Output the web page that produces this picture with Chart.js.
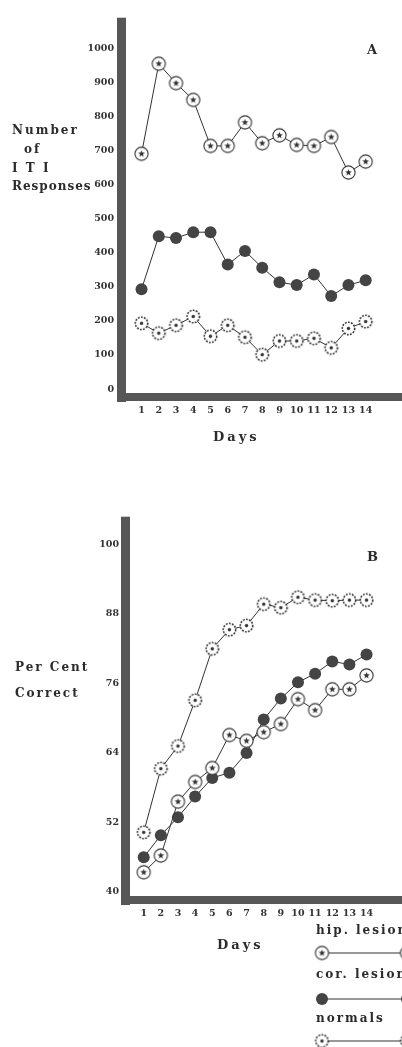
<!DOCTYPE html>
<html>
<head>
<meta charset="utf-8">
<script src="https://cdn.jsdelivr.net/npm/chart.js@4.4.1/dist/chart.umd.min.js"></script>
<style>
body { margin: 0; background: #fff; width: 402px; height: 1047px; overflow: hidden; position: relative; font-family: "DejaVu Serif", serif; color: #2b2b2b; }
.lbl { position: absolute; font-weight: bold; white-space: nowrap; letter-spacing: 2px; font-size: 12px; line-height: 12px; }
.big { font-size: 13px; letter-spacing: 3px; }
#wrapA { position: absolute; left: 0; top: 0; width: 402px; height: 460px; }
#wrapB { position: absolute; left: 0; top: 500px; width: 402px; height: 547px; }
</style>
</head>
<body>
<div id="wrapA"><canvas id="chartA" width="402" height="460"></canvas></div>
<div id="wrapB"><canvas id="chartB" width="402" height="547"></canvas></div>

<div class="lbl" style="left:12px;top:124px">Number</div>
<div class="lbl" style="left:24px;top:143px">of</div>
<div class="lbl" style="left:12px;top:162px">I T I</div>
<div class="lbl" style="left:12px;top:180px;letter-spacing:1px">Responses</div>
<div class="lbl big" style="left:367px;top:44px">A</div>
<div class="lbl big" style="left:213px;top:431px">Days</div>

<div class="lbl" style="left:15px;top:661px">Per Cent</div>
<div class="lbl" style="left:15px;top:687px">Correct</div>
<div class="lbl big" style="left:367px;top:551px">B</div>
<div class="lbl big" style="left:217px;top:939px">Days</div>

<div class="lbl" style="left:316px;top:924px">hip. lesions</div>
<div class="lbl" style="left:316px;top:968px">cor. lesions</div>
<div class="lbl" style="left:316px;top:1012px">normals</div>

<script>
// values
const days = [1, 2, 3, 4, 5, 6, 7, 8, 9, 10, 11, 12, 13, 14];
const dayTicks = [1, 2, 3, 4, 5, 6, 7, 8, 9, 10, 11, 12, 13, 14];

// panel A - number of ITI responses
const itiHip = [690, 954, 897, 848, 713, 713, 782, 721, 744, 716, 713, 739, 635, 667];
const itiCor = [293, 448, 443, 460, 460, 365, 405, 356, 313, 305, 336, 273, 305, 319];
const itiNormal = [193, 164, 187, 213, 155, 187, 152, 101, 141, 141, 149, 121, 178, 198];
const itiTicks = [0, 100, 200, 300, 400, 500, 600, 700, 800, 900, 1000];

// panel B - per cent correct
const pctHip = [43.4, 46.3, 55.6, 59.0, 61.4, 67.1, 66.1, 67.6, 69.0, 73.3, 71.4, 75.0, 75.0, 77.4];
const pctCor = [46.0, 49.8, 52.9, 56.5, 59.7, 60.6, 64.0, 69.8, 73.4, 76.2, 77.7, 79.8, 79.3, 81.0];
const pctNormal = [50.3, 61.3, 65.2, 73.1, 82.0, 85.3, 86.0, 89.7, 89.1, 90.9, 90.4, 90.3, 90.4, 90.4];
const pctTicks = [40, 52, 64, 76, 88, 100];

const ink = '#333';
const barColor = '#575757';
const tickFont = { family: 'DejaVu Serif', size: 9.5, weight: 'bold' };

// marker: open circle with a star in it
function makeHipMarker() {
    const c = document.createElement('canvas');
    c.width = 17; c.height = 17;
    const g = c.getContext('2d');
    g.beginPath();
    g.arc(8.5, 8.5, 6.6, 0, Math.PI * 2);
    g.fillStyle = '#fff';
    g.fill();
    g.lineWidth = 1.1;
    g.strokeStyle = ink;
    g.stroke();
    g.beginPath();
    for (let i = 0; i < 10; i++) {
        const r = i % 2 === 0 ? 3.6 : 1.5;
        const a = -Math.PI / 2 + i * Math.PI / 5;
        g.lineTo(8.5 + r * Math.cos(a), 8.5 + r * Math.sin(a));
    }
    g.closePath();
    g.fillStyle = ink;
    g.fill();
    return c;
}

// marker: dashed circle with a dot
function makeNormalMarker() {
    const c = document.createElement('canvas');
    c.width = 17; c.height = 17;
    const g = c.getContext('2d');
    g.beginPath();
    g.arc(8.5, 8.5, 6.2, 0, Math.PI * 2);
    g.fillStyle = '#fff';
    g.fill();
    g.setLineDash([1.8, 1.3]);
    g.lineWidth = 1.6;
    g.strokeStyle = ink;
    g.stroke();
    g.setLineDash([]);
    g.beginPath();
    g.arc(8.5, 8.5, 1.7, 0, Math.PI * 2);
    g.fillStyle = ink;
    g.fill();
    return c;
}

const hipMarker = makeHipMarker();
const normalMarker = makeNormalMarker();

function series(label, values, style) {
    const s = {
        label: label,
        data: days.map((d, i) => ({ x: d, y: values[i] })),
        borderColor: ink,
        borderWidth: 1,
        tension: 0,
        fill: false,
        pointStyle: style,
        pointRadius: 6,
        pointHoverRadius: 6
    };
    if (style === 'circle') {
        s.pointBackgroundColor = '#444';
        s.pointBorderColor = '#444';
        s.pointBorderWidth = 0;
    }
    return s;
}

// thick axis bars of the original figure
const axisBars = {
    id: 'axisBars',
    afterDraw(chart) {
        const a = chart.chartArea;
        const ctx = chart.ctx;
        ctx.save();
        ctx.fillStyle = barColor;
        ctx.fillRect(a.left - 9, a.top, 9, a.bottom - a.top + 9);
        ctx.fillRect(a.left - 9, a.bottom, chart.width - a.left + 9, 8);
        ctx.restore();
    }
};

// legend samples under panel B
const legendSamples = {
    id: 'legendSamples',
    afterDraw(chart) {
        if (!chart.options.plugins.legendSamples) return;
        const ctx = chart.ctx;
        const rows = [
            { y: 453, kind: 'hip' },
            { y: 499, kind: 'cor' },
            { y: 541, kind: 'normal' }
        ];
        ctx.save();
        rows.forEach(function(r) {
            ctx.beginPath();
            ctx.moveTo(322, r.y);
            ctx.lineTo(410, r.y);
            ctx.strokeStyle = ink;
            ctx.lineWidth = 1;
            ctx.stroke();
            [322, 407].forEach(function(x) {
                if (r.kind === 'cor') {
                    ctx.beginPath();
                    ctx.arc(x, r.y, 6, 0, Math.PI * 2);
                    ctx.fillStyle = '#444';
                    ctx.fill();
                } else {
                    const img = r.kind === 'hip' ? hipMarker : normalMarker;
                    ctx.drawImage(img, x - img.width / 2, r.y - img.height / 2);
                }
            });
        });
        ctx.restore();
    }
};

function makeChart(id, opts) {
    new Chart(document.getElementById(id), {
        type: 'line',
        data: {
            datasets: [
                series('hip. lesions', opts.hip, hipMarker),
                series('cor. lesions', opts.cor, 'circle'),
                series('normals', opts.normal, normalMarker)
            ]
        },
        options: {
            responsive: false,
            animation: false,
            events: [],
            layout: { padding: { top: opts.top, right: 0, left: 0, bottom: 0 } },
            plugins: {
                legend: { display: false },
                tooltip: { enabled: false },
                legendSamples: opts.legend
            },
            scales: {
                x: {
                    type: 'linear',
                    min: opts.xMin,
                    max: opts.xMax,
                    grid: { display: false, drawTicks: false },
                    border: { display: false },
                    afterBuildTicks: axis => { axis.ticks = dayTicks.map(v => ({ value: v })); },
                    afterFit: axis => { axis.height = opts.xHeight; },
                    ticks: { color: ink, font: tickFont, padding: 12, maxRotation: 0, autoSkip: false,
                             callback: v => String(v) }
                },
                y: {
                    min: opts.yMin,
                    max: opts.yMax,
                    grid: { display: false, drawTicks: false },
                    border: { display: false },
                    afterBuildTicks: axis => { axis.ticks = opts.yTicks.map(v => ({ value: v })); },
                    afterFit: axis => { axis.width = opts.left; },
                    ticks: { color: ink, font: tickFont, padding: opts.yPad, callback: v => String(v) }
                }
            }
        },
        plugins: [axisBars, legendSamples]
    });
}

makeChart('chartA', {
    hip: itiHip, cor: itiCor, normal: itiNormal, yTicks: itiTicks,
    yMin: -11.5, yMax: 1089, xMin: 0.1, xMax: 15.7,
    top: 10, xHeight: 67, left: 126, yPad: 12, legend: false
});

makeChart('chartB', {
    hip: pctHip, cor: pctCor, normal: pctNormal, yTicks: pctTicks,
    yMin: 39.31, yMax: 104.8, xMin: 0.2, xMax: 15.66,
    top: 14, xHeight: 151, left: 130, yPad: 11, legend: true
});
</script>
</body>
</html>
